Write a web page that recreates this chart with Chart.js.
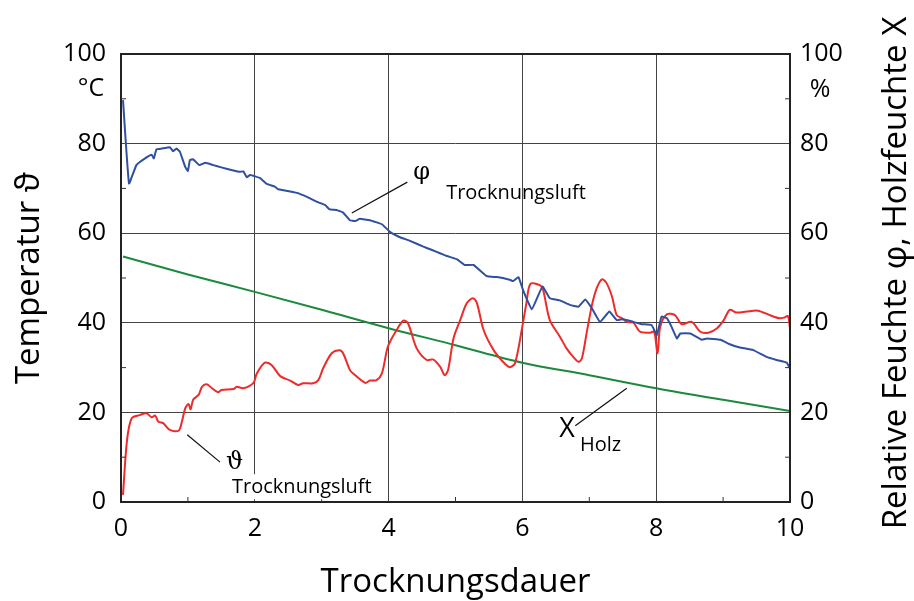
<!DOCTYPE html>
<html>
<head>
<meta charset="utf-8">
<script src="https://cdn.jsdelivr.net/npm/chart.js@4"></script>
<style>
  body { margin: 0; background: #fff; }
</style>
</head>
<body>
<canvas id="dryChart" width="914" height="601"></canvas>
<script>
// Trocknungsdauer (x) and the three curves
var phiTime = [0.03, 0.12, 0.23, 0.36, 0.46, 0.49, 0.53, 0.61, 0.73, 0.78, 0.83, 0.88, 0.96, 1.0, 1.03, 1.08, 1.17, 1.26, 1.38, 1.5,
    1.68, 1.78, 1.83, 1.88, 1.93, 2.08, 2.18, 2.3, 2.35, 2.43, 2.63, 2.78, 2.93, 3.05, 3.12, 3.22, 3.32, 3.42, 3.5, 3.57,
    3.72, 3.9, 4.02, 4.17, 4.32, 4.52, 4.64, 4.87, 5.02, 5.14, 5.27, 5.47, 5.62, 5.81, 5.86, 5.94, 6.01, 6.14, 6.3, 6.41,
    6.56, 6.71, 6.84, 6.94, 7.04, 7.16, 7.3, 7.41, 7.51, 7.66, 7.78, 7.93, 8.01, 8.08, 8.16, 8.23, 8.31, 8.36, 8.51, 8.68,
    8.76, 8.96, 9.1, 9.25, 9.45, 9.65, 9.8, 9.95, 10.0];
var phiValues = [89.7, 71.1, 75.2, 76.7, 77.5, 76.7, 78.7, 78.9, 79.2, 78.3, 78.9, 78.2, 74.8, 73.9, 76.3, 76.5, 75.2, 75.7, 75.2, 74.7,
    74.0, 73.7, 73.8, 72.5, 73.0, 72.3, 71.0, 70.4, 69.8, 69.6, 69.0, 68.1, 67.0, 66.3, 65.3, 65.2, 64.6, 62.9, 62.7, 63.2,
    62.9, 62.0, 60.3, 59.1, 58.3, 57.0, 56.3, 54.9, 54.2, 52.9, 52.9, 50.4, 50.2, 49.6, 49.3, 50.2, 47.3, 43.0, 48.1, 45.5,
    45.0, 44.0, 43.6, 45.2, 43.2, 40.2, 42.5, 40.6, 40.8, 40.2, 39.7, 39.5, 37.3, 41.4, 41.0, 39.1, 36.5, 37.6, 37.6, 36.2,
    36.5, 36.2, 35.2, 34.5, 33.9, 32.4, 31.7, 31.1, 29.8];

var thetaTime = [0.03, 0.09, 0.16, 0.28, 0.38, 0.46, 0.51, 0.56, 0.63, 0.73, 0.86, 0.91, 0.96, 1.01, 1.04, 1.08, 1.16, 1.21, 1.28, 1.36,
    1.45, 1.5, 1.68, 1.73, 1.83, 1.98, 2.03, 2.15, 2.25, 2.38, 2.53, 2.65, 2.72, 2.87, 2.95, 3.02, 3.15, 3.27, 3.32, 3.42,
    3.47, 3.65, 3.72, 3.82, 3.9, 3.99, 4.12, 4.22, 4.29, 4.42, 4.57, 4.67, 4.77, 4.84, 4.89, 4.97, 5.07, 5.17, 5.26, 5.32,
    5.42, 5.57, 5.71, 5.81, 5.89, 5.99, 6.06, 6.12, 6.26, 6.31, 6.41, 6.56, 6.66, 6.76, 6.84, 6.89, 6.96, 7.04, 7.11, 7.19,
    7.26, 7.34, 7.41, 7.49, 7.56, 7.66, 7.76, 7.91, 7.97, 8.02, 8.06, 8.16, 8.28, 8.38, 8.53, 8.66, 8.78, 8.91, 9.01, 9.1,
    9.2, 9.35, 9.52, 9.7, 9.85, 9.92, 9.97, 10.0];
var thetaValues = [1.6, 13.8, 18.7, 19.4, 19.8, 18.9, 19.3, 17.9, 17.6, 16.1, 15.9, 17.9, 20.9, 21.9, 20.7, 22.9, 23.9, 25.7, 26.3, 25.4,
    24.5, 25.0, 25.2, 25.7, 25.4, 26.6, 28.7, 31.1, 30.6, 28.1, 27.1, 26.1, 26.5, 26.5, 27.2, 29.8, 33.2, 33.9, 33.2, 29.5,
    28.7, 26.6, 27.1, 27.2, 28.7, 34.7, 38.4, 40.5, 39.9, 34.3, 31.7, 31.8, 30.2, 28.3, 29.5, 36.5, 40.6, 44.4, 45.5, 44.4,
    38.4, 33.9, 31.3, 30.1, 31.0, 38.4, 44.4, 48.7, 48.4, 47.3, 40.6, 36.9, 34.3, 32.4, 31.3, 32.1, 37.7, 44.0, 47.7, 49.7,
    48.8, 45.8, 41.7, 41.0, 40.2, 40.0, 38.0, 37.8, 38.0, 33.2, 39.1, 41.9, 41.7, 39.7, 40.2, 38.0, 37.8, 38.8, 40.6, 42.9,
    42.3, 42.5, 42.7, 41.7, 41.0, 41.2, 41.5, 38.8];

var holzTime = [0.03, 1, 2, 3, 4, 5, 6, 7, 8, 9, 10];
var holzValues = [54.8, 50.8, 46.9, 42.9, 38.8, 35.0, 31.1, 28.3, 25.4, 22.8, 20.3];

var xTicks = [0, 2, 4, 6, 8, 10];
var yTicks = [0, 20, 40, 60, 80, 100];
var minorX = [1, 3, 5, 7, 9];
var minorY = [10, 30, 50, 70, 90];

function toPoints(xs, ys) {
    return xs.map((x, i) => ({ x: x, y: ys[i] }));
}

var FONT = "'Open Sans', sans-serif";

// frame, inward minor ticks, unit labels, titles and the curve labels
var decorations = {
    id: 'decorations',
    beforeDraw: function (chart) {
        var c = chart.ctx;
        c.save();
        c.fillStyle = '#fff';
        c.fillRect(0, 0, chart.width, chart.height);
        c.restore();
    },
    afterDatasetsDraw: function (chart) {
        var c = chart.ctx;
        var a = chart.chartArea;
        var xs = chart.scales.x, yl = chart.scales.y, yr = chart.scales.y2;
        c.save();
        c.strokeStyle = '#222';
        c.lineWidth = 2;
        c.strokeRect(a.left, a.top, a.right - a.left, a.bottom - a.top);

        // small ticks pointing into the plot
        c.lineWidth = 1;
        c.strokeStyle = '#333';
        minorX.forEach(function (v) {
            var px = xs.getPixelForValue(v);
            c.beginPath(); c.moveTo(px, a.bottom); c.lineTo(px, a.bottom - 5); c.stroke();
        });
        minorY.forEach(function (v) {
            var py = yl.getPixelForValue(v);
            c.beginPath(); c.moveTo(a.left, py); c.lineTo(a.left + 5, py); c.stroke();
            c.beginPath(); c.moveTo(a.right, py); c.lineTo(a.right - 5, py); c.stroke();
        });

        c.fillStyle = '#000';
        c.font = '25px ' + FONT;
        c.textBaseline = 'middle';
        c.textAlign = 'center';
        c.fillText('°C', 91, yl.getPixelForValue(92.3));
        c.fillText('%', 820, yr.getPixelForValue(92));

        // axis titles
        c.font = '33px ' + FONT;
        c.fillText('Trocknungsdauer', (a.left + a.right) / 2, 583);
        c.save();
        c.translate(30, (a.top + a.bottom) / 2);
        c.rotate(-Math.PI / 2);
        c.fillText('Temperatur ϑ', 0, 0);
        c.restore();
        c.font = '33px ' + FONT;
        c.save();
        c.translate(897, 273);
        c.rotate(-Math.PI / 2);
        c.fillText('Relative Feuchte φ, Holzfeuchte X', 0, 0);
        c.restore();

        // leader lines
        c.strokeStyle = '#111';
        c.lineWidth = 1.2;
        var leaders = [[3.45, 64.5, 4.28, 71.4], [0.99, 15.0, 1.48, 8.9], [6.79, 17.0, 7.56, 25.4]];
        leaders.forEach(function (l) {
            c.beginPath();
            c.moveTo(xs.getPixelForValue(l[0]), yl.getPixelForValue(l[1]));
            c.lineTo(xs.getPixelForValue(l[2]), yl.getPixelForValue(l[3]));
            c.stroke();
        });

        // curve labels
        c.textAlign = 'left';
        c.font = '24px DejaVu Serif';
        c.fillText('φ', xs.getPixelForValue(4.37), yl.getPixelForValue(73.4));
        c.fillText('ϑ', xs.getPixelForValue(1.57), yl.getPixelForValue(8.7));

        c.font = '20px ' + FONT;
        c.fillText('Trocknungsluft', xs.getPixelForValue(4.86), yl.getPixelForValue(69));
        var lx = xs.getPixelForValue(1.66), ly = yl.getPixelForValue(3.3);
        var w = c.measureText('Trocknungsluft').width;
        c.fillStyle = '#fff';
        c.fillRect(lx - 2, ly - 13, w + 4, 25);
        c.fillStyle = '#000';
        c.fillText('Trocknungsluft', lx, ly);

        c.font = '27px ' + FONT;
        c.fillText('X', xs.getPixelForValue(6.55), yl.getPixelForValue(16.3));
        c.font = '20px ' + FONT;
        c.fillText('Holz', xs.getPixelForValue(6.86), yl.getPixelForValue(12.7));
        c.restore();
    }
};

var ctx = document.getElementById('dryChart').getContext('2d');
var dryChart = new Chart(ctx, {
    type: 'line',
    data: {
        datasets: [
            {
                label: 'φ Trocknungsluft',
                data: toPoints(phiTime, phiValues),
                borderColor: '#2f4f9f',
                borderWidth: 2,
                pointRadius: 0,
                fill: false,
                tension: 0.1,
                yAxisID: 'y2'
            },
            {
                label: 'ϑ Trocknungsluft',
                data: toPoints(thetaTime, thetaValues),
                borderColor: '#ee2a2a',
                borderWidth: 2,
                pointRadius: 0,
                fill: false,
                tension: 0.3,
                yAxisID: 'y'
            },
            {
                label: 'X Holz',
                data: toPoints(holzTime, holzValues),
                borderColor: '#1b8a3c',
                borderWidth: 2,
                pointRadius: 0,
                fill: false,
                cubicInterpolationMode: 'monotone',
                yAxisID: 'y2'
            }
        ]
    },
    options: {
        responsive: false,
        animation: false,
        devicePixelRatio: 1,
        layout: { padding: { top: 54, right: 0, bottom: 0, left: 0 } },
        plugins: {
            legend: { display: false },
            tooltip: { enabled: false }
        },
        scales: {
            x: {
                type: 'linear',
                min: 0,
                max: 10,
                afterBuildTicks: function (scale) {
                    scale.ticks = xTicks.map((v) => ({ value: v }));
                },
                afterFit: function (scale) { scale.height = 99; },
                grid: {
                    color: (c) => (c.tick && c.tick.value > 0 && c.tick.value < 10) ? '#444' : 'rgba(0,0,0,0)',
                    lineWidth: 1,
                    drawTicks: false
                },
                border: { display: false },
                ticks: {
                    color: '#000',
                    padding: 12,
                    maxRotation: 0,
                    font: { family: FONT, size: 25 }
                }
            },
            y: {
                position: 'left',
                min: 0,
                max: 100,
                afterBuildTicks: function (scale) {
                    scale.ticks = yTicks.map((v) => ({ value: v }));
                },
                afterFit: function (scale) { scale.width = 121; },
                grid: {
                    color: (c) => (c.tick && c.tick.value > 0 && c.tick.value < 100) ? '#444' : 'rgba(0,0,0,0)',
                    lineWidth: 1,
                    drawTicks: false
                },
                border: { display: false },
                ticks: {
                    color: '#000',
                    padding: 15,
                    font: { family: FONT, size: 25 }
                }
            },
            y2: {
                position: 'right',
                min: 0,
                max: 100,
                afterBuildTicks: function (scale) {
                    scale.ticks = yTicks.map((v) => ({ value: v }));
                },
                afterFit: function (scale) { scale.width = 124; },
                grid: { drawOnChartArea: false, drawTicks: false },
                border: { display: false },
                ticks: {
                    color: '#000',
                    padding: 10,
                    font: { family: FONT, size: 25 }
                }
            }
        }
    },
    plugins: [decorations]
});
</script>
</body>
</html>
